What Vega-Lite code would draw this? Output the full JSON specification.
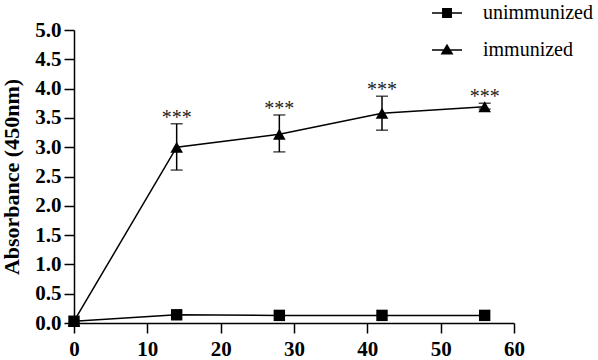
{
  "$schema": "https://vega.github.io/schema/vega-lite/v6.json",
  "autosize": {"type": "none"},
  "padding": {"left": 74, "top": 30, "right": 84, "bottom": 37},
  "width": 440,
  "height": 293,
  "background": "white",
  "config": {
    "view": {"stroke": null},
    "font": "Liberation Serif",
    "legend": {"labelFont": "Liberation Serif"}
  },
  "datasets": {
    "means": [
      {"day": 0, "group": "unimmunized", "absorbance": 0.03},
      {"day": 14, "group": "unimmunized", "absorbance": 0.14},
      {"day": 28, "group": "unimmunized", "absorbance": 0.13},
      {"day": 42, "group": "unimmunized", "absorbance": 0.13},
      {"day": 56, "group": "unimmunized", "absorbance": 0.13},
      {"day": 0, "group": "immunized", "absorbance": 0.03},
      {"day": 14, "group": "immunized", "absorbance": 3.0},
      {"day": 28, "group": "immunized", "absorbance": 3.22},
      {"day": 42, "group": "immunized", "absorbance": 3.58},
      {"day": 56, "group": "immunized", "absorbance": 3.69}
    ],
    "errors": [
      {"day": 14, "group": "immunized", "lo": 2.61, "hi": 3.4, "sig": "***"},
      {"day": 28, "group": "immunized", "lo": 2.92, "hi": 3.55, "sig": "***"},
      {"day": 42, "group": "immunized", "lo": 3.29, "hi": 3.87, "sig": "***"},
      {"day": 56, "group": "immunized", "lo": 3.65, "hi": 3.75, "sig": "***"}
    ]
  },
  "encoding": {
    "x": {
      "field": "day", "type": "quantitative",
      "scale": {"domain": [0, 60], "nice": false, "zero": false},
      "axis": {
        "title": null,
        "values": [0, 10, 20, 30, 40, 50, 60],
        "tickCount": 20,
        "grid": false,
        "domainColor": "black", "domainWidth": 1.5,
        "tickColor": "black", "tickWidth": 1.5, "tickSize": 10,
        "labelFont": "Liberation Serif", "labelFontWeight": "bold",
        "labelFontSize": 21, "labelColor": "black", "labelPadding": 5,
        "labelFlush": false, "labelOverlap": false
      }
    }
  },
  "layer": [
    {
      "data": {"name": "means"},
      "mark": {"type": "line", "color": "black", "strokeWidth": 1.5},
      "encoding": {
        "y": {
          "field": "absorbance", "type": "quantitative",
          "scale": {"domain": [0, 5], "nice": false, "zero": true},
          "axis": {
            "title": "Absorbance (450nm)",
            "values": [0, 0.5, 1, 1.5, 2, 2.5, 3, 3.5, 4, 4.5, 5],
            "tickCount": 20,
            "format": ".1f",
            "grid": false,
            "domainColor": "black", "domainWidth": 1.5,
            "tickColor": "black", "tickWidth": 1.5, "tickSize": 10,
            "labelFont": "Liberation Serif", "labelFontWeight": "bold",
            "labelFontSize": 21, "labelColor": "black", "labelPadding": 3,
            "labelFlush": false, "labelOverlap": false,
            "titleFont": "Liberation Serif", "titleFontWeight": "bold",
            "titleFontSize": 22, "titleColor": "black",
            "titleX": -63, "titleY": 146.5, "titleBaseline": "middle", "titleAngle": -90, "titleAlign": "center"
          }
        },
        "detail": {"field": "group"}
      }
    },
    {
      "data": {"name": "errors"},
      "mark": {"type": "rule", "color": "black", "strokeWidth": 1.5},
      "encoding": {
        "y": {"field": "lo", "type": "quantitative"},
        "y2": {"field": "hi"}
      }
    },
    {
      "data": {"name": "errors"},
      "mark": {"type": "tick", "orient": "horizontal", "color": "black", "thickness": 1.5, "size": 12},
      "encoding": {
        "y": {"field": "lo", "type": "quantitative"}
      }
    },
    {
      "data": {"name": "errors"},
      "mark": {"type": "tick", "orient": "horizontal", "color": "black", "thickness": 1.5, "size": 12},
      "encoding": {
        "y": {"field": "hi", "type": "quantitative"}
      }
    },
    {
      "data": {"name": "means"},
      "transform": [{"filter": "datum.group === 'unimmunized'"}],
      "mark": {"type": "point", "shape": "square", "filled": true, "color": "black", "opacity": 1, "size": 130},
      "encoding": {
        "y": {"field": "absorbance", "type": "quantitative"}
      }
    },
    {
      "data": {"name": "means"},
      "transform": [{"filter": "datum.group === 'immunized'"}],
      "mark": {"type": "point", "shape": "triangle-up", "filled": true, "color": "black", "opacity": 1, "size": 160},
      "encoding": {
        "y": {"field": "absorbance", "type": "quantitative"}
      }
    },
    {
      "data": {"name": "means"},
      "mark": {"type": "point", "filled": true, "color": "black", "opacity": 0, "size": 10},
      "encoding": {
        "y": {"field": "absorbance", "type": "quantitative"},
        "shape": {
          "field": "group", "type": "nominal",
          "scale": {
            "domain": ["unimmunized", "immunized"],
            "range": [
              "M-1,-0.05H1V0.05H-1ZM-0.33,-0.33H0.33V0.33H-0.33Z",
              "M-1,-0.05H1V0.05H-1ZM0,-0.42L0.43,0.3H-0.43Z"
            ]
          },
          "legend": {
            "title": null,
            "orient": "none",
            "legendX": 357,
            "legendY": -33,
            "padding": 0,
            "symbolSize": 900,
            "symbolFillColor": "black",
            "symbolOpacity": 1,
            "labelFont": "Liberation Serif",
            "labelFontSize": 20,
            "labelColor": "black",
            "labelOffset": 20,
            "rowPadding": 11
          }
        }
      }
    },
    {
      "data": {"name": "errors"},
      "mark": {"type": "text", "font": "Liberation Serif", "fontSize": 20, "color": "#222", "baseline": "alphabetic", "dy": 0},
      "encoding": {
        "y": {"field": "hi", "type": "quantitative"},
        "text": {"field": "sig"}
      }
    }
  ]
}
